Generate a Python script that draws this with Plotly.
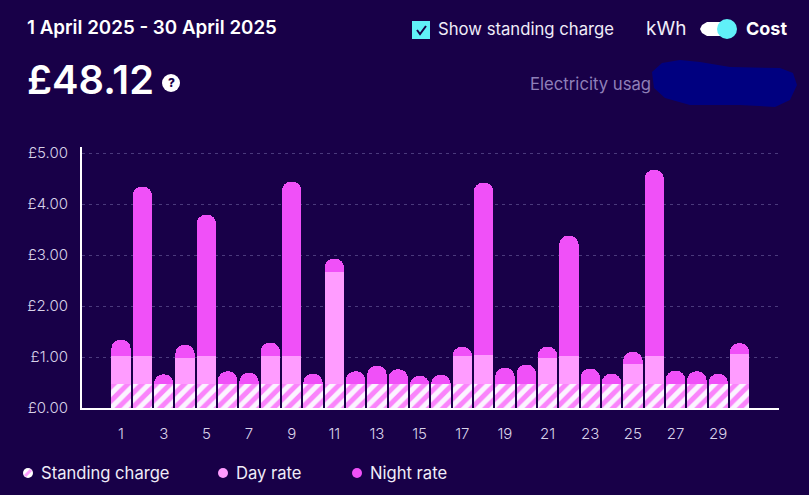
import plotly.graph_objects as go

days = list(range(1, 31))
standing = [0.47] * 30
day_top = [1.02,1.02,0.47,0.98,1.02,0.47,0.47,1.02,1.02,0.47,2.67,0.47,0.47,0.47,0.47,0.47,1.02,1.04,0.47,0.47,0.98,1.02,0.47,0.47,0.87,1.02,0.47,0.47,0.47,1.06]
total = [1.34,4.34,0.66,1.24,3.79,0.72,0.69,1.28,4.44,0.67,2.93,0.72,0.83,0.76,0.63,0.65,1.20,4.42,0.79,0.85,1.20,3.38,0.77,0.67,1.10,4.67,0.73,0.72,0.67,1.27]
day_rate = [round(d - s, 2) for d, s in zip(day_top, standing)]
night_rate = [round(t - d, 2) for t, d in zip(total, day_top)]
y_ticks = [0, 1, 2, 3, 4, 5]
y_labels = ["£0.00", "£1.00", "£2.00", "£3.00", "£4.00", "£5.00"]
x_ticks = list(range(1, 30, 2))

BG = "#180048"; PINK = "#f050f8"; LIGHT = "#ff9cff"; CYAN = "#60f0f8"; WHITE = "#ffffff"
FONT = "Inter"
W, H = 809, 495
L, R, T, B = 82, 30, 147, 87

def px(x): return (x - L) / (W - L - R)
def py(y): return (H - B - y) / (H - T - B)

fig = go.Figure()
fig.add_bar(x=days, y=standing, name="Standing charge", marker=dict(color=LIGHT, line_width=0,
            pattern=dict(shape="/", fgcolor="#fa84fb", bgcolor="#fbf4ff", fgopacity=1, size=10, solidity=0.5)))
fig.add_bar(x=days, y=day_rate, name="Day rate", marker=dict(color=LIGHT, line_width=0))
fig.add_bar(x=days, y=night_rate, name="Night rate", marker=dict(color=PINK, line_width=0))

shapes, annos = [], []
def text(x, y, s, size, color="#f0ecf8", anchor="left", weight=400):
    annos.append(dict(x=px(x - 2 if anchor == "left" else x), y=py(y), xref="paper", yref="paper", text=s, showarrow=False,
                      xanchor=anchor, yanchor="middle", font=dict(family=FONT, size=size, color=color, weight=weight)))
def circle(cx, cy, r, color):
    shapes.append(dict(type="circle", xref="paper", yref="paper", x0=px(cx-r), x1=px(cx+r), y0=py(cy+r), y1=py(cy-r), fillcolor=color, line_width=0))
def pathshape(points, color, close=True, line=0, lc=None):
    d = "M " + " L ".join(f"{px(a):.5f},{py(b):.5f}" for a, b in points) + (" Z" if close else "")
    shapes.append(dict(type="path", xref="paper", yref="paper", path=d,
                       fillcolor=color if close else "rgba(0,0,0,0)", line=dict(width=line, color=lc or color)))

text(27, 28, "1 April 2025 - 30 April 2025", 18.75, WHITE, weight=600)
text(27, 79, "£48.12", 39.8, WHITE, weight=600)
circle(171, 83, 9, WHITE)
text(171, 83, "?", 12, BG, "center", 800)
pathshape([(412,21),(430,21),(430,39),(412,39)], CYAN)
pathshape([(417,30),(420,34),(426,26)], BG, close=False, line=2)
text(438, 29, "Show standing charge", 16.7)
text(646, 29, "kWh", 19)
pathshape([(707,22),(728,22),(728,36),(707,36),(702,33),(700,29),(702,25)], WHITE)
circle(727, 29, 10, CYAN)
text(746, 29, "Cost", 18, WHITE, weight=700)
text(530, 84, "Electricity usag", 16.7, "#8f7fb8")
pathshape([(652,72),(662,63),(680,60),(700,62),(730,67),(780,68),(793,73),(797,85),(790,100),(775,107),(740,105),(690,105),(665,98),(654,88)], "#000080")

circle(28, 473, 5, WHITE)
pathshape([(25,476),(31,470)], LIGHT, close=False, line=3)
text(41, 473, "Standing charge", 16.6)
circle(223, 473, 5, LIGHT)
text(236, 473, "Day rate", 16.6)
circle(357, 473, 5, PINK)
text(370, 473, "Night rate", 16.6)

fig.update_layout(
    width=W, height=H, autosize=False, barmode="stack", bargap=0.09, barcornerradius=9,
    paper_bgcolor=BG, plot_bgcolor=BG, showlegend=False,
    margin=dict(l=L, r=R, t=T, b=B, pad=0),
    font=dict(family=FONT, color="#d8d2e8", size=15, weight=300),
    shapes=shapes, annotations=annos,
    xaxis=dict(range=[-0.83, 31.85], tickvals=x_ticks, showgrid=False, zeroline=False,
               showline=True, linecolor=WHITE, linewidth=2, ticks="", ticklabelstandoff=11),
    yaxis=dict(range=[0, 5.118], tickvals=y_ticks, ticktext=y_labels,
               showgrid=True, gridcolor="#4a3a7c", griddash="3px,4px", gridwidth=1, zeroline=False,
               showline=True, linecolor=WHITE, linewidth=2, ticks="", ticklabelstandoff=9),
)
fig.write_html("out.html", config={"displayModeBar": False},
               post_script="document.body.style.margin='0';document.body.style.overflow='hidden';")
